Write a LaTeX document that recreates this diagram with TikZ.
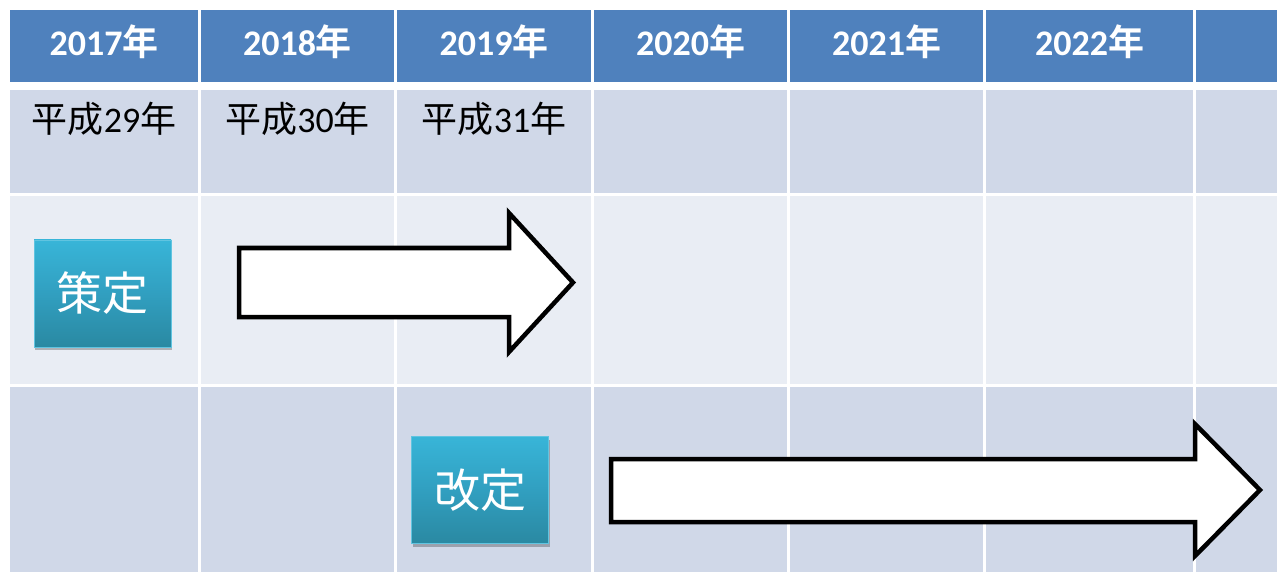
\documentclass[tikz,border=0pt]{standalone}
\usepackage{fontspec}
\setmainfont{Carlito}
\newfontfamily\cjk{Noto Sans CJK JP}[BoldFont={Noto Sans CJK JP Bold}]
\usetikzlibrary{shadows}
\definecolor{hdr}{HTML}{4F81BD}
\definecolor{rowA}{HTML}{D0D8E8}
\definecolor{rowB}{HTML}{E9EDF4}
\definecolor{boxtop}{HTML}{38B5D8}
\definecolor{boxmid}{HTML}{319FC0}
\definecolor{boxbot}{HTML}{2A89A2}
\begin{document}
\begin{tikzpicture}[x=1pt,y=-1pt,
  cell/.style={inner sep=0pt,outer sep=0pt,draw=none,anchor=north west},
  hdrtext/.style={text=white,font=\fontsize{36}{40}\selectfont\bfseries,inner sep=0pt},
  subtext/.style={text=black,font=\fontsize{36}{40}\selectfont,inner sep=0pt},
  stepbox/.style={inner sep=0pt,minimum width=137pt,minimum height=107pt,
    top color=boxtop,bottom color=boxbot,middle color=boxmid,draw=boxtop!80!white,line width=0.6pt,
    text=white,font=\cjk\fontsize{46}{50}\selectfont,
    drop shadow={shadow xshift=1pt,shadow yshift=-3pt,opacity=0.25,fill=black}},
  blockarrow/.style={draw=black,fill=white,line width=4.5pt,line join=miter,miter limit=10}
]
\useasboundingbox (0,0) rectangle (1277,572);
\fill[white] (0,0) rectangle (1277,572);
\foreach \l/\r/\i in {10/198/1,201/394/2,397/591/3,594/787/4,790/983/5,986/1193/6,1196/1277/7}{
  \pgfmathsetmacro\w{\r-\l}
  \node[cell,fill=hdr,minimum width=\w pt,minimum height=72pt] (h\i) at (\l,10) {};
  \node[cell,fill=rowA,minimum width=\w pt,minimum height=103pt] (s\i) at (\l,90) {};
  \node[cell,fill=rowB,minimum width=\w pt,minimum height=188pt] (a\i) at (\l,196) {};
  \node[cell,fill=rowA,minimum width=\w pt,minimum height=185pt] (b\i) at (\l,387) {};
}
\foreach \i/\y in {1/2017,2/2018,3/2019,4/2020,5/2021,6/2022}{
  \node[hdrtext] (ht\i) at ([yshift=4pt]h\i.center) {\y{\cjk 年}};
}
\node[subtext] (st1) at (104,119) {{\cjk 平成}29{\cjk 年}};
\node[subtext] (st2) at (297.5,119) {{\cjk 平成}30{\cjk 年}};
\node[subtext] (st3) at (494,119) {{\cjk 平成}31{\cjk 年}};
\node[stepbox] (sakutei) at (102.5,293.5) {策定};
\node[stepbox] (kaitei) at (480,490) {改定};
\draw[blockarrow] (239,248) -- (509,248) -- (509,213) -- (573,282.5) -- (509,352) -- (509,317) -- (239,317) -- cycle;
\draw[blockarrow] (611,459) -- (1195,459) -- (1195,424) -- (1260,490) -- (1195,556) -- (1195,522) -- (611,522) -- cycle;
\end{tikzpicture}
\end{document}
